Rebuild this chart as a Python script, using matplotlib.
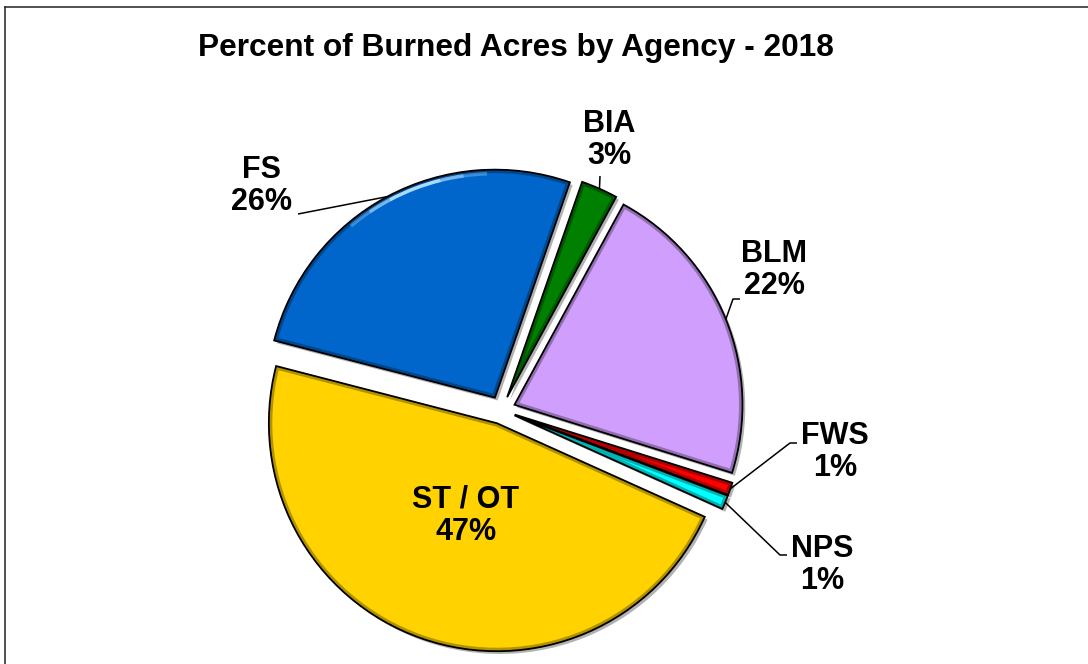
import math
import matplotlib
matplotlib.use("Agg")
import matplotlib.pyplot as plt
import matplotlib.patheffects as pe
from matplotlib.patches import Wedge, Arc
from matplotlib.lines import Line2D

# ---- data ----
agencies = ["BIA", "BLM", "FWS", "NPS", "ST / OT", "FS"]
percent = [2.6, 21.9, 0.9, 1.0, 47.3, 26.3]
colors = ["#008000", "#D09EFC", "#FF0000", "#00FFFF", "#FFD200", "#0066CC"]
title = "Percent of Burned Acres by Agency - 2018"

plt.rcParams['font.family'] = ['Liberation Sans', 'DejaVu Sans']

W, H = 1088, 664
fig = plt.figure(figsize=(W / 100, H / 100), dpi=100)
ax = fig.add_axes([0, 0, 1, 1])


def px(x, y):
    """pixel (top-left origin) -> data coords"""
    return x, H - y


cx, cy = px(501.5, 410)
R = 228
wedges, _ = ax.pie(percent, colors=colors, startangle=70.8, counterclock=False,
                   radius=R, center=(cx, cy), explode=[14] * len(percent),
                   wedgeprops=dict(edgecolor="black", linewidth=1.3),
                   frame=False)
ax.set_xlim(0, W)
ax.set_ylim(0, H)
ax.set_aspect('auto')
ax.axis('off')

# bevel / shadow look
for w, c in zip(wedges, colors):
    w.set_path_effects([pe.SimplePatchShadow(offset=(2, -2), shadow_rgbFace="#666666", alpha=0.5),
                        pe.Normal()])
    band = Wedge(w.center, w.r, w.theta1, w.theta2, facecolor="none",
                 edgecolor="black", linewidth=5, alpha=0.3, zorder=w.get_zorder() + 0.1)
    ax.add_patch(band)
    band.set_clip_path(w)

# highlight on FS outer arc (fading at both ends)
fs = wedges[agencies.index("FS")]
segs = [(92, 98, 0.35), (98, 104, 0.7), (104, 118, 1.0), (118, 124, 0.7), (124, 130, 0.35)]
for a1, a2, al in segs:
    arc = Arc(fs.center, 2 * (fs.r - 4), 2 * (fs.r - 4), theta1=a1, theta2=a2,
              color="#A8DCFF", linewidth=2.5, alpha=al, zorder=3)
    ax.add_patch(arc)
    arc.set_clip_path(fs)


def edge_point(w):
    a = math.radians((w.theta1 + w.theta2) / 2)
    return w.center[0] + w.r * math.cos(a), w.center[1] + w.r * math.sin(a)


fs_label = 22
# label layout: (text centre px, leader line start points px)
layout = {
    "FS": ((262, 186), [(298, 214)]),
    "BIA": ((609, 140), [(600, 176)]),
    "BLM": ((774, 270), [(740, 299), (733, 299)]),
    "FWS": ((835, 452), [(797, 443), (790, 443)]),
    "NPS": ((822, 565), [(787, 555), (780, 555)]),
    "ST / OT": ((466, 516), []),
}

for name, val, w in zip(agencies, percent, wedges):
    (tx, ty), pts = layout[name]
    ax.text(*px(tx, ty), f"{name}\n{val:.0f}%", ha="center", va="center",
            fontsize=fs_label, fontweight="bold", linespacing=1.12, zorder=6)
    if pts:
        xs = [px(*p)[0] for p in pts]
        ys = [px(*p)[1] for p in pts]
        ex, ey = edge_point(w)
        xs.append(ex)
        ys.append(ey)
        ax.plot(xs, ys, color="black", linewidth=1.1, zorder=5, solid_capstyle="butt")

ax.text(*px(516, 48), title, ha="center", va="center", fontsize=22.8,
        fontweight="bold", zorder=6)

# outer frame (top and left edges visible)
fig.add_artist(Line2D([5 / W, 5 / W], [0, 1 - 7 / H], color="#222222", linewidth=1.1))
fig.add_artist(Line2D([5 / W, 1], [1 - 7 / H, 1 - 7 / H], color="#222222", linewidth=1.1))

fig.savefig("out.png", dpi=100)
